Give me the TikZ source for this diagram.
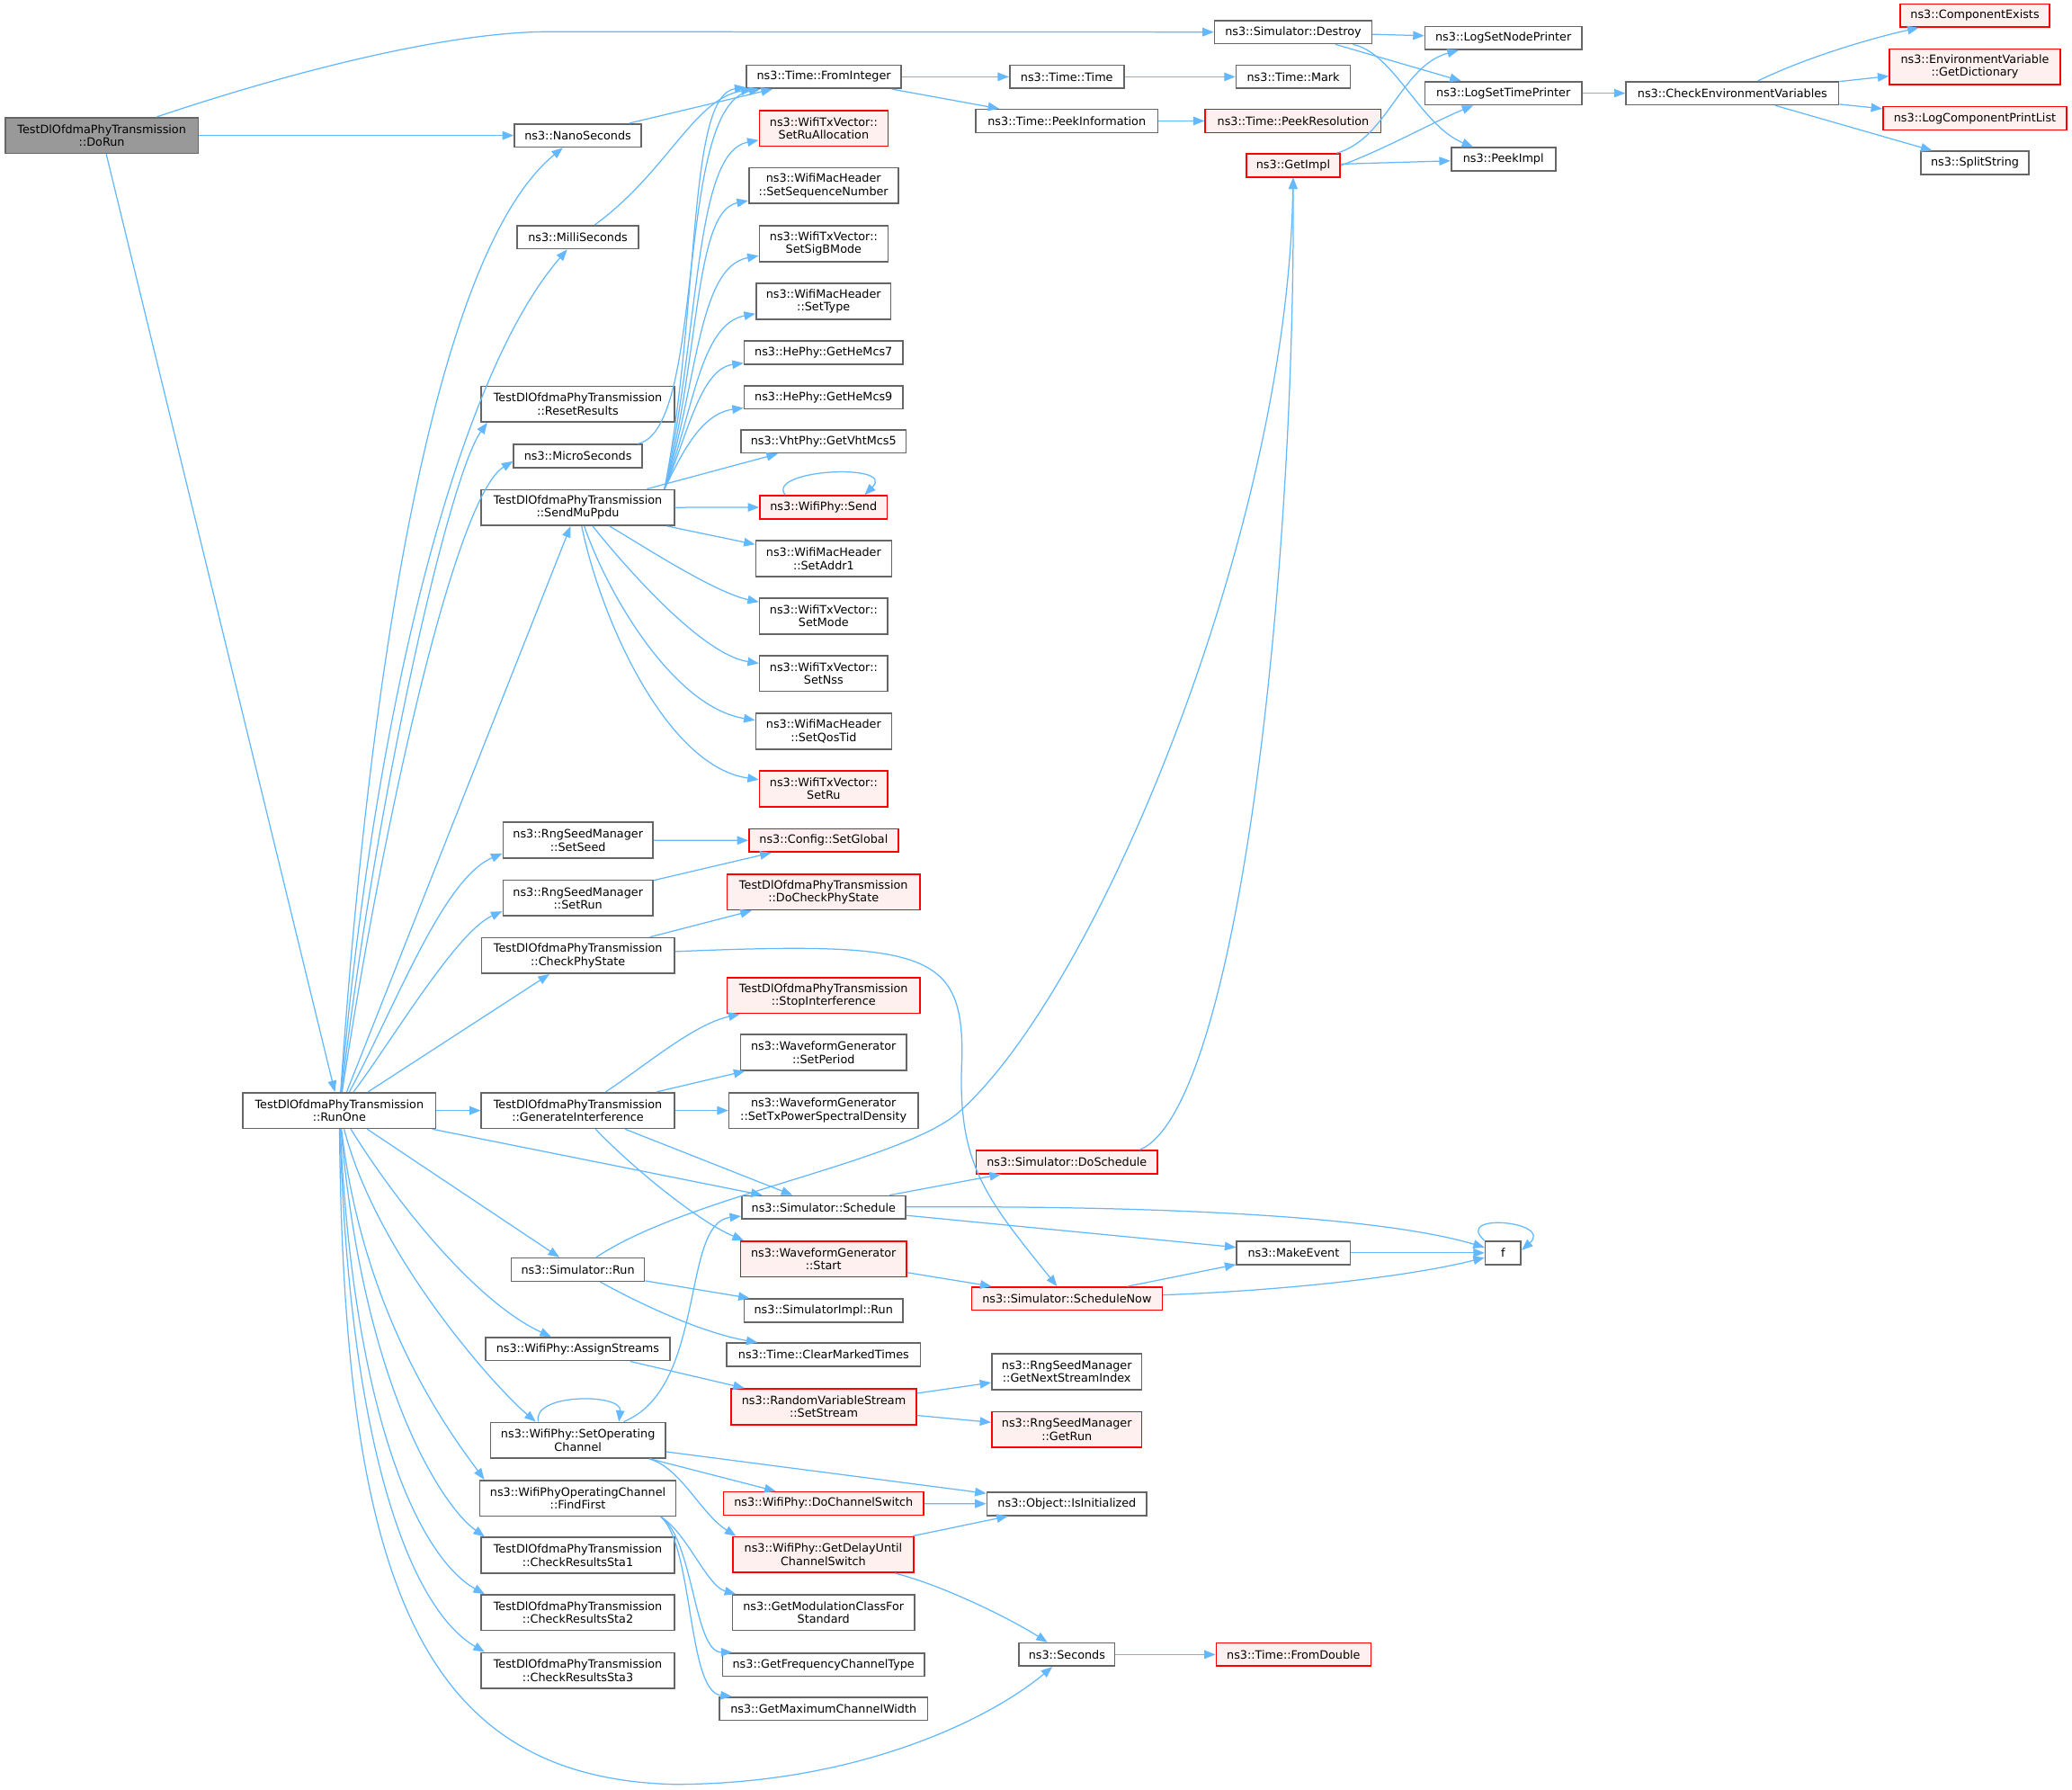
\documentclass[tikz,border=0pt]{standalone}
\usepackage{fontspec}
\setmainfont{DejaVu Sans}
\usepackage{tikz}
\usetikzlibrary{arrows.meta}
\definecolor{edgeblue}{HTML}{63B8FF}
\definecolor{boxgray}{HTML}{666666}
\definecolor{hotred}{HTML}{FF0000}
\definecolor{hotfill}{HTML}{FFF0F0}
\definecolor{rootfill}{HTML}{999999}
\begin{document}
\begin{tikzpicture}[x=1pt,y=1pt,
  fn/.style={draw=boxgray, fill=white, line width=1.1pt, inner sep=0pt, align=center, text=black, font=\fontsize{8.7}{9.8}\selectfont},
  hot/.style={draw=hotred, fill=hotfill},
  root/.style={fill=rootfill},
  one/.style={minimum height=17.5},
  two/.style={minimum height=27},
  call/.style={draw=edgeblue, line width=0.85pt, -{Triangle[length=8.5pt,width=6.5pt]}}]
\useasboundingbox (0,0) rectangle (1568,-1354.3);
\node[fn, root, two, minimum width=146] (dorun) at (77,-102.5) {TestDlOfdmaPhyTransmission\\::DoRun};
\node[fn, one, minimum width=119] (destroy) at (978.6,-24.3) {ns3::Simulator::Destroy};
\node[fn, one, minimum width=118.6] (lognode) at (1137.7,-28.7) {ns3::LogSetNodePrinter};
\node[fn, one, minimum width=118.6] (logtime) at (1137.7,-70.5) {ns3::LogSetTimePrinter};
\node[fn, one, minimum width=161] (checkenv) at (1311,-70.5) {ns3::CheckEnvironmentVariables};
\node[fn, hot, one, minimum width=113] (compexists) at (1494.5,-11.7) {ns3::ComponentExists};
\node[fn, hot, two, minimum width=129] (getdict) at (1494.5,-50.5) {ns3::EnvironmentVariable\\::GetDictionary};
\node[fn, hot, one, minimum width=139] (printlist) at (1494.5,-89.5) {ns3::LogComponentPrintList};
\node[fn, one, minimum width=81.5] (splitstr) at (1494.5,-123.2) {ns3::SplitString};
\node[fn, one, minimum width=117] (fromint) at (623.5,-58.1) {ns3::Time::FromInteger};
\node[fn, one, minimum width=86.5] (timetime) at (807.3,-58.1) {ns3::Time::Time};
\node[fn, one, minimum width=86.5] (timemark) at (978.7,-58.1) {ns3::Time::Mark};
\node[fn, one, minimum width=137.6] (peekinfo) at (807.3,-91.5) {ns3::Time::PeekInformation};
\node[fn, hot, one, minimum width=133] (peekres) at (978.6,-91.5) {ns3::Time::PeekResolution};
\node[fn, hot, one, minimum width=71] (getimpl) at (978.6,-125.2) {ns3::GetImpl};
\node[fn, one, minimum width=79] (peekimpl) at (1137.7,-120.5) {ns3::PeekImpl};
\node[fn, one, minimum width=96] (nano) at (437.3,-102.5) {ns3::NanoSeconds};
\node[fn, one, minimum width=92] (milli) at (437.3,-179.5) {ns3::MilliSeconds};
\node[fn, two, minimum width=146] (reset) at (437.3,-305.7) {TestDlOfdmaPhyTransmission\\::ResetResults};
\node[fn, one, minimum width=97] (micro) at (437.3,-345) {ns3::MicroSeconds};
\node[fn, two, minimum width=146] (sendmu) at (437.3,-384) {TestDlOfdmaPhyTransmission\\::SendMuPpdu};
\node[fn, hot, two, minimum width=97.4] (setrualloc) at (623.3,-97.1) {ns3::WifiTxVector::\\SetRuAllocation};
\node[fn, two, minimum width=113] (setseqnum) at (623.2,-140.5) {ns3::WifiMacHeader\\::SetSequenceNumber};
\node[fn, two, minimum width=97.4] (setsigb) at (623.3,-184.4) {ns3::WifiTxVector::\\SetSigBMode};
\node[fn, two, minimum width=102] (settype) at (623.2,-228) {ns3::WifiMacHeader\\::SetType};
\node[fn, one, minimum width=120] (hemcs7) at (623.2,-266.8) {ns3::HePhy::GetHeMcs7};
\node[fn, one, minimum width=120] (hemcs9) at (623.2,-300.5) {ns3::HePhy::GetHeMcs9};
\node[fn, one, minimum width=125] (vhtmcs5) at (623.2,-334) {ns3::VhtPhy::GetVhtMcs5};
\node[fn, hot, one, minimum width=96.4] (send) at (623.2,-383.8) {ns3::WifiPhy::Send};
\node[fn, two, minimum width=102.7] (setaddr1) at (623.3,-422.7) {ns3::WifiMacHeader\\::SetAddr1};
\node[fn, two, minimum width=97] (setmode) at (623.3,-466.1) {ns3::WifiTxVector::\\SetMode};
\node[fn, two, minimum width=97] (setnss) at (623.3,-509.5) {ns3::WifiTxVector::\\SetNss};
\node[fn, two, minimum width=102.7] (setqos) at (623.3,-553.2) {ns3::WifiMacHeader\\::SetQosTid};
\node[fn, hot, two, minimum width=97] (setru) at (623.3,-596.8) {ns3::WifiTxVector::\\SetRu};
\node[fn, two, minimum width=113.5] (setseed) at (437.4,-635.7) {ns3::RngSeedManager\\::SetSeed};
\node[fn, hot, one, minimum width=113] (setglobal) at (623.3,-635.9) {ns3::Config::SetGlobal};
\node[fn, two, minimum width=113.5] (setrun) at (437.4,-679.5) {ns3::RngSeedManager\\::SetRun};
\node[fn, two, minimum width=146] (checkphy) at (437.4,-723) {TestDlOfdmaPhyTransmission\\::CheckPhyState};
\node[fn, hot, two, minimum width=146] (docheck) at (623.2,-675) {TestDlOfdmaPhyTransmission\\::DoCheckPhyState};
\node[fn, hot, two, minimum width=146] (stopinterf) at (623.2,-753.2) {TestDlOfdmaPhyTransmission\\::StopInterference};
\node[fn, two, minimum width=125.7] (setperiod) at (623.2,-796.3) {ns3::WaveformGenerator\\::SetPeriod};
\node[fn, two, minimum width=143] (settxpsd) at (623.2,-840.2) {ns3::WaveformGenerator\\::SetTxPowerSpectralDensity};
\node[fn, two, minimum width=146] (geninterf) at (437.3,-840.2) {TestDlOfdmaPhyTransmission\\::GenerateInterference};
\node[fn, two, minimum width=146] (runone) at (256.8,-840.2) {TestDlOfdmaPhyTransmission\\::RunOne};
\node[fn, hot, one, minimum width=137.3] (doschedule) at (807.3,-879.2) {ns3::Simulator::DoSchedule};
\node[fn, one, minimum width=124] (schedule) at (623.3,-913.5) {ns3::Simulator::Schedule};
\node[fn, hot, two, minimum width=125.7] (wgstart) at (623.2,-952.5) {ns3::WaveformGenerator\\::Start};
\node[fn, one, minimum width=86] (makeevent) at (978.9,-947.9) {ns3::MakeEvent};
\node[fn, one, minimum width=27] (f) at (1137.5,-947.9) {f};
\node[fn, hot, one, minimum width=144.3] (schednow) at (807.4,-982.5) {ns3::Simulator::ScheduleNow};
\node[fn, one, minimum width=100.7] (simrun) at (437.3,-960.6) {ns3::Simulator::Run};
\node[fn, one, minimum width=120.3] (simimplrun) at (623.2,-991.5) {ns3::SimulatorImpl::Run};
\node[fn, one, minimum width=146.6] (clearmarked) at (623.3,-1025) {ns3::Time::ClearMarkedTimes};
\node[fn, one, minimum width=139.7] (assign) at (437.2,-1020.7) {ns3::WifiPhy::AssignStreams};
\node[fn, hot, two, minimum width=140] (setstream) at (623.4,-1064.3) {ns3::RandomVariableStream\\::SetStream};
\node[fn, two, minimum width=113.4] (nextstream) at (807.3,-1037.8) {ns3::RngSeedManager\\::GetNextStreamIndex};
\node[fn, hot, two, minimum width=113.4] (getrun) at (807.3,-1081.5) {ns3::RngSeedManager\\::GetRun};
\node[fn, two, minimum width=132.5] (setopch) at (437.4,-1089.7) {ns3::WifiPhy::SetOperating\\Channel};
\node[fn, two, minimum width=148.5] (findfirst) at (437.3,-1133.5) {ns3::WifiPhyOperatingChannel\\::FindFirst};
\node[fn, hot, one, minimum width=151.6] (dochswitch) at (623.2,-1137.5) {ns3::WifiPhy::DoChannelSwitch};
\node[fn, one, minimum width=121] (isinit) at (807.4,-1137.8) {ns3::Object::IsInitialized};
\node[fn, hot, two, minimum width=137] (getdelay) at (623,-1176.2) {ns3::WifiPhy::GetDelayUntil\\ChannelSwitch};
\node[fn, two, minimum width=146] (sta1) at (437.3,-1176.7) {TestDlOfdmaPhyTransmission\\::CheckResultsSta1};
\node[fn, two, minimum width=146] (sta2) at (437.3,-1220.1) {TestDlOfdmaPhyTransmission\\::CheckResultsSta2};
\node[fn, two, minimum width=146] (sta3) at (437.3,-1263.9) {TestDlOfdmaPhyTransmission\\::CheckResultsSta3};
\node[fn, two, minimum width=137.6] (getmodclass) at (623.2,-1220.1) {ns3::GetModulationClassFor\\Standard};
\node[fn, one, minimum width=153] (getfreqtype) at (623.2,-1259.4) {ns3::GetFrequencyChannelType};
\node[fn, one, minimum width=157.7] (getmaxwidth) at (623.2,-1292.8) {ns3::GetMaximumChannelWidth};
\node[fn, one, minimum width=72.5] (seconds) at (807.4,-1251.8) {ns3::Seconds};
\node[fn, hot, one, minimum width=117] (fromdouble) at (978.9,-1251.8) {ns3::Time::FromDouble};

\draw[call] (dorun) .. controls (200,-61) and (330,-24) .. (416,-24) -- (destroy);
\draw[call] (dorun) -- (nano);
\draw[call] (dorun) -- (runone);
\draw[call] (destroy) -- (lognode);
\draw[call] (destroy) -- (logtime);
\draw[call] (destroy) .. controls (1055,-40) and (1075,-95) .. (peekimpl);
\draw[call] (logtime) -- (checkenv);
\draw[call] (checkenv) .. controls (1370,-42) and (1420,-28) .. (compexists);
\draw[call] (checkenv) -- (getdict);
\draw[call] (checkenv) -- (printlist);
\draw[call] (checkenv) -- (splitstr);
\draw[call] (getimpl) .. controls (1050,-105) and (1060,-50) .. (lognode);
\draw[call] (getimpl.east) .. controls (1050,-112) and (1085,-92) .. (logtime);
\draw[call] (getimpl) -- (peekimpl);
\draw[call] (fromint) -- (timetime);
\draw[call] (fromint) -- (peekinfo);
\draw[call] (timetime) -- (timemark);
\draw[call] (peekinfo) -- (peekres);
\draw[call] (nano) -- (fromint);
\draw[call] (milli) .. controls (505,-130) and (525,-75) .. (fromint);
\draw[call] (micro) .. controls (535,-325) and (510,-80) .. (fromint);
\draw[call] ([xshift=-8pt]sendmu.north east) .. controls (530,-230) and (520,-72) .. (fromint);
\draw[call] ([xshift=-8pt]sendmu.north east) .. controls (530,-250) and (525,-115) .. (setrualloc);
\draw[call] ([xshift=-8pt]sendmu.north east) .. controls (530,-270) and (525,-160) .. (setseqnum);
\draw[call] ([xshift=-8pt]sendmu.north east) .. controls (528,-290) and (528,-202) .. (setsigb);
\draw[call] ([xshift=-8pt]sendmu.north east) .. controls (525,-310) and (530,-245) .. (settype);
\draw[call] ([xshift=-8pt]sendmu.north east) .. controls (520,-330) and (530,-279) .. (hemcs7);
\draw[call] ([xshift=-8pt]sendmu.north east) .. controls (515,-345) and (530,-313) .. (hemcs9);
\draw[call] (sendmu) -- (vhtmcs5);
\draw[call] (sendmu) -- (send);
\draw[call] (sendmu) -- (setaddr1);
\draw[call] (sendmu) .. controls (485,-412) and (540,-448) .. (setmode);
\draw[call] (sendmu) .. controls (470,-425) and (530,-495) .. (setnss);
\draw[call] (sendmu) .. controls (460,-450) and (510,-535) .. (setqos);
\draw[call] (sendmu) .. controls (455,-470) and (505,-580) .. (setru);
\draw[call] ([xshift=-29pt]send.north) .. controls (579,-355) and (679,-350) .. ([xshift=31pt]send.north);
\draw[call] (runone) .. controls (280,-500) and (330,-190) .. (nano);
\draw[call] (runone) .. controls (285,-520) and (350,-280) .. (milli);
\draw[call] (runone) .. controls (285,-600) and (340,-360) .. ([xshift=5pt]reset.south west);
\draw[call] (runone) .. controls (290,-620) and (345,-375) .. ([yshift=-4pt]micro.west);
\draw[call] (runone) -- (sendmu);
\draw[call] (runone) .. controls (300,-760) and (335,-665) .. ([yshift=-10pt]setseed.west);
\draw[call] (runone) .. controls (295,-790) and (345,-705) .. ([yshift=-10pt]setrun.west);
\draw[call] (runone) -- (checkphy);
\draw[call] (runone) -- (geninterf);
\draw[call] (runone) -- (schedule);
\draw[call] (runone) -- (simrun);
\draw[call] (runone) .. controls (300,-910) and (360,-985) .. (assign);
\draw[call] (runone) .. controls (285,-950) and (375,-1050) .. ([xshift=-32pt]setopch.north);
\draw[call] (runone) .. controls (275,-1000) and (345,-1090) .. ([xshift=4pt]findfirst.north west);
\draw[call] (runone) .. controls (275,-1050) and (335,-1140) .. ([xshift=3pt]sta1.north west);
\draw[call] (runone) .. controls (268,-1080) and (320,-1180) .. ([xshift=3pt]sta2.north west);
\draw[call] (runone) .. controls (265,-1110) and (315,-1220) .. ([xshift=3pt]sta3.north west);
\draw[call] (runone) .. controls (260,-1200) and (320,-1345) .. (510,-1350) .. controls (650,-1350) and (750,-1300) .. (seconds);
\draw[call] (geninterf) .. controls (490,-805) and (525,-775) .. (stopinterf);
\draw[call] (geninterf) -- (setperiod);
\draw[call] (geninterf) -- (settxpsd);
\draw[call] (geninterf) -- (schedule);
\draw[call] (geninterf) .. controls (480,-885) and (530,-925) .. ([xshift=3pt]wgstart.north west);
\draw[call] (setseed) -- (setglobal);
\draw[call] (setrun) -- (setglobal);
\draw[call] (checkphy) -- (docheck);
\draw[call] (checkphy) .. controls (700,-712) and (729,-720) .. (728,-800) .. controls (724,-880) and (745,-905) .. (schednow);
\draw[call] (schedule) -- (doschedule);
\draw[call] (schedule) -- (makeevent);
\draw[call] (schedule) .. controls (900,-912) and (1050,-922) .. (f);
\draw[call] ([xshift=-14pt]doschedule.north east) .. controls (935,-840) and (980,-450) .. (getimpl);
\draw[call] (simrun) .. controls (520,-905) and (680,-880) .. (725,-842) .. controls (830,-750) and (975,-400) .. (getimpl);
\draw[call] (simrun) -- (simimplrun);
\draw[call] (simrun) .. controls (500,-995) and (540,-1010) .. ([xshift=-50pt]clearmarked.north);
\draw[call] (wgstart) -- (schednow);
\draw[call] (schednow) -- (makeevent);
\draw[call] (schednow) .. controls (980,-976) and (1070,-965) .. (f);
\draw[call] (makeevent) -- (f);
\draw[call] (f.north west) .. controls (1099,-917) and (1176,-924) .. ([yshift=2pt]f.east);
\draw[call] (assign) -- (setstream);
\draw[call] (setstream) -- (nextstream);
\draw[call] (setstream) -- (getrun);
\draw[call] ([xshift=-30pt]setopch.north) .. controls (402,-1054) and (471,-1054) .. ([xshift=31pt]setopch.north);
\draw[call] (setopch) .. controls (535,-1050) and (515,-925) .. (schedule);
\draw[call] (setopch) -- (isinit);
\draw[call] (setopch) -- (dochswitch);
\draw[call] (setopch) .. controls (515,-1110) and (530,-1145) .. ([xshift=3pt]getdelay.north west);
\draw[call] (dochswitch) -- (isinit);
\draw[call] (getdelay) -- (isinit);
\draw[call] (getdelay) .. controls (715,-1200) and (765,-1225) .. (seconds);
\draw[call] (seconds) -- (fromdouble);
\draw[call] ([xshift=-12pt]findfirst.south east) .. controls (520,-1160) and (535,-1200) .. ([xshift=3pt]getmodclass.north west);
\draw[call] ([xshift=-12pt]findfirst.south east) .. controls (525,-1165) and (525,-1250) .. ([xshift=8pt]getfreqtype.north west);
\draw[call] ([xshift=-12pt]findfirst.south east) .. controls (525,-1170) and (520,-1280) .. ([xshift=10pt]getmaxwidth.north west);
\end{tikzpicture}
\end{document}
